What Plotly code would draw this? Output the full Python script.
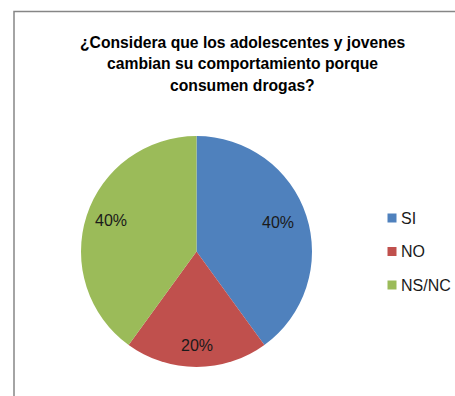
import math
import plotly.graph_objects as go

# Survey answers and their shares
categories = ["SI", "NO", "NS/NC"]
shares = [40, 20, 40]
colors = ["#4F81BD", "#C0504D", "#9BBB59"]

title_lines = [
    "¿Considera que los adolescentes y jovenes",
    "cambian su comportamiento porque",
    "consumen drogas?",
]

W, H = 455, 396
FONT = "Liberation Sans"

# Pie placement in pixels (center and radius)
cx, cy, r = 196.5, 251.5, 115.5

fig = go.Figure(
    go.Pie(
        labels=categories,
        values=shares,
        marker=dict(colors=colors, line=dict(width=0)),
        sort=False,
        direction="clockwise",
        rotation=0,
        textinfo="none",
        hoverinfo="label+percent",
        showlegend=False,
        domain=dict(
            x=[(cx - r) / W, (cx + r) / W],
            y=[1 - (cy + r) / H, 1 - (cy - r) / H],
        ),
    )
)

# Percentage labels, positioned at each slice's mid-angle
label_radius = [0.74, 0.84, 0.78]
total = sum(shares)
cum = 0
for cat, val, fr in zip(categories, shares, label_radius):
    mid = (cum + val / 2) / total * 2 * math.pi
    cum += val
    px = cx + fr * r * math.sin(mid)
    py = cy - fr * r * math.cos(mid)
    fig.add_annotation(
        x=px / W, y=1 - py / H, xref="paper", yref="paper",
        text=f"{round(val / total * 100)}%", showarrow=False,
        font=dict(family=FONT, size=16, color="#1a1a1a"),
        xanchor="center", yanchor="middle", yshift=3,
    )

# Legend: square swatch plus label for each category
leg_x, leg_y0, leg_dy = 387.5, 218, 33.5
for i, (cat, col) in enumerate(zip(categories, colors)):
    y = leg_y0 + i * leg_dy
    fig.add_shape(
        type="rect", xref="paper", yref="paper",
        x0=leg_x / W, x1=(leg_x + 9) / W,
        y0=1 - (y + 4.5) / H, y1=1 - (y - 4.5) / H,
        fillcolor=col, line=dict(width=0),
    )
    fig.add_annotation(
        x=(leg_x + 11.5) / W, y=1 - y / H, xref="paper", yref="paper",
        text=cat, showarrow=False, xanchor="left", yanchor="middle",
        font=dict(family=FONT, size=16, color="#1a1a1a"),
    )

# Chart frame
fig.add_shape(
    type="rect", xref="paper", yref="paper",
    x0=14 / W, x1=1.05, y0=-0.05, y1=1 - 11.5 / H,
    line=dict(color="#868686", width=1.5), fillcolor="rgba(0,0,0,0)",
)

# Title
for i, line in enumerate(title_lines):
    fig.add_annotation(
        x=242 / W, y=1 - (42 + i * 21.5) / H, xref="paper", yref="paper",
        text=f"<b>{line}</b>", showarrow=False,
        xanchor="center", yanchor="middle",
        font=dict(family=FONT, size=15.7, color="#000000"),
    )

fig.update_layout(
    width=W, height=H,
    margin=dict(l=0, r=0, t=0, b=0),
    paper_bgcolor="white",
    plot_bgcolor="white",
)

fig.write_html("out.html")
